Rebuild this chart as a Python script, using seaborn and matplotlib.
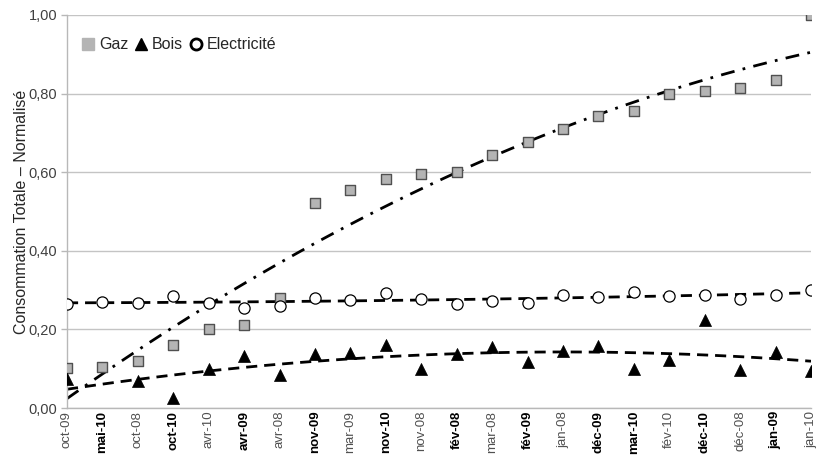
"""Consommation totale normalisée par mois : Gaz, Bois, Electricité."""

import matplotlib
matplotlib.use("Agg")
import matplotlib.pyplot as plt
from matplotlib.lines import Line2D
import numpy as np
import pandas as pd
import seaborn as sns

months = ["oct-09", "mai-10", "oct-08", "oct-10", "avr-10", "avr-09", "avr-08",
          "nov-09", "mar-09", "nov-10", "nov-08", "fév-08", "mar-08", "fév-09",
          "jan-08", "déc-09", "mar-10", "fév-10", "déc-10", "déc-08", "jan-09",
          "jan-10"]
bold_months = ["mai-10", "oct-10", "avr-09", "nov-09", "nov-10", "fév-08",
               "fév-09", "déc-09", "mar-10", "déc-10", "jan-09"]

gaz = [0.102, 0.105, 0.120, 0.160, 0.200, 0.211, 0.280, 0.521, 0.554, 0.582,
       0.595, 0.600, 0.644, 0.678, 0.709, 0.743, 0.756, 0.800, 0.807, 0.815,
       0.834, 1.000]
bois = [0.073, np.nan, 0.069, 0.026, 0.100, 0.132, 0.084, 0.138, 0.140, 0.161,
        0.100, 0.137, 0.156, 0.117, 0.146, 0.159, 0.099, 0.121, 0.224, 0.097,
        0.143, 0.095]
elec = [0.265, 0.269, 0.267, 0.284, 0.267, 0.254, 0.260, 0.281, 0.275, 0.292,
        0.277, 0.265, 0.272, 0.266, 0.288, 0.283, 0.294, 0.286, 0.288, 0.277,
        0.288, 0.300]

df = pd.DataFrame({"pos": np.arange(len(months)), "mois": months,
                   "Gaz": gaz, "Bois": bois, "Electricité": elec})

sns.set_style("white")
plt.rcParams["font.family"] = ["Liberation Sans", "DejaVu Sans"]

fig = plt.figure(figsize=(8.16, 4.55), dpi=100)
ax = fig.add_axes([67 / 816, 47 / 455, 744 / 816, 393 / 455])

# trend lines (polynomial order 2, like the spreadsheet trendlines)
sns.regplot(data=df, x="pos", y="Gaz", order=2, ci=None, scatter=False,
            truncate=True, ax=ax,
            line_kws={"color": "black", "lw": 2, "ls": (0, (5, 3, 1, 3))})
sns.regplot(data=df.dropna(subset=["Bois"]), x="pos", y="Bois", order=2,
            ci=None, scatter=False, truncate=True, ax=ax,
            line_kws={"color": "black", "lw": 2, "ls": (0, (4, 2.5))})
sns.regplot(data=df, x="pos", y="Electricité", order=2, ci=None,
            scatter=False, truncate=True, ax=ax,
            line_kws={"color": "black", "lw": 2, "ls": (0, (4, 2.5))})

sns.scatterplot(data=df, x="pos", y="Gaz", marker="s", s=55, color="#b4b4b4",
                edgecolor="#505050", linewidth=1, ax=ax, zorder=3)
sns.scatterplot(data=df, x="pos", y="Bois", marker="^", s=75, color="black",
                edgecolor="black", linewidth=0.5, ax=ax, zorder=3)
sns.scatterplot(data=df, x="pos", y="Electricité", marker="o", s=65,
                color="white", edgecolor="black", linewidth=0.9, ax=ax,
                zorder=3)

ax.set_xlim(0, len(months) - 1)
ax.set_ylim(0, 1)
ax.set_yticks(np.arange(0, 1.01, 0.2))
ax.set_yticklabels([f"{v:.2f}".replace(".", ",") for v in np.arange(0, 1.01, 0.2)],
                   fontsize=10.5, color="#404040")
ax.set_xticks(df["pos"])
ax.set_xticklabels(months, rotation=90, fontsize=9.5)
for lab in ax.get_xticklabels():
    if lab.get_text() in bold_months:
        lab.set_fontweight("bold")
        lab.set_color("black")
    else:
        lab.set_color("#505050")

ax.grid(axis="y", color="#c4c4c4", lw=1)
ax.grid(axis="x", visible=False)
for side in ["top", "right"]:
    ax.spines[side].set_visible(False)
for side in ["left", "bottom"]:
    ax.spines[side].set_color("#b8b8b8")
    ax.spines[side].set_linewidth(1)
ax.tick_params(axis="y", length=4, width=1, color="#b8b8b8", pad=3,
               direction="out", left=True)
ax.tick_params(axis="x", length=0, pad=2)

ax.set_xlabel("")
ax.set_ylabel("Consommation Totale – Normalisé", fontsize=11.5, labelpad=0)

handles = [
    Line2D([], [], ls="", marker="s", ms=8, mfc="#b4b4b4", mec="#b4b4b4"),
    Line2D([], [], ls="", marker="^", ms=9, mfc="black", mec="black"),
    Line2D([], [], ls="", marker="o", ms=8, mfc="white", mec="black", mew=2),
]
ax.legend(handles, ["Gaz", "Bois", "Electricité"], loc="center left",
          bbox_to_anchor=(0.0, 0.924), ncol=3, frameon=False,
          handlelength=0.8, handletextpad=0.3, columnspacing=0.4,
          fontsize=11.5)

plt.savefig("out.png", dpi=100)
